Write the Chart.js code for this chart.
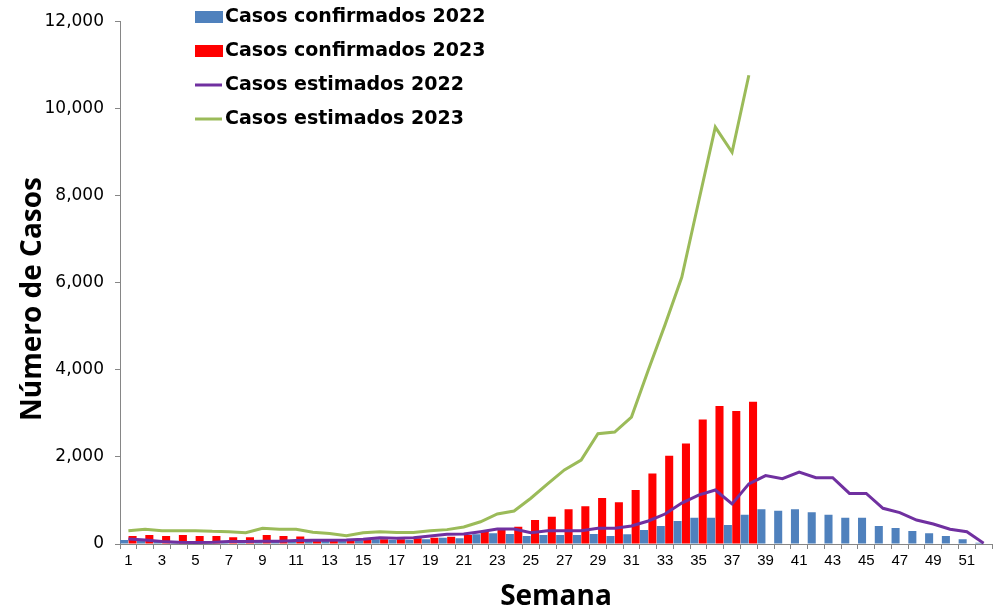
<!DOCTYPE html>
<html>
<head>
<meta charset="utf-8">
<script src="https://cdn.jsdelivr.net/npm/chart.js@4"></script>
<style>
  html, body { margin: 0; padding: 0; background: #fff; }
  #wrap { width: 1000px; height: 611px; }
</style>
</head>
<body>
<div id="wrap"><canvas id="chartCasos" width="1000" height="611"></canvas></div>
<script>
const weeks = [1,2,3,4,5,6,7,8,9,10,11,12,13,14,15,16,17,18,19,20,21,22,23,24,25,26,
  27,28,29,30,31,32,33,34,35,36,37,38,39,40,41,42,43,44,45,46,47,48,49,50,51,52];

const confirmados2022 = [90,70,60,60,60,60,60,60,70,70,70,70,76,76,80,107,92,92,107,145,130,222,245,229,184,206,
  206,206,229,184,222,321,413,528,605,605,436,670,795,765,795,727,673,605,605,413,367,298,245,184,107,30];

const confirmados2023 = [184,206,184,206,184,184,153,153,206,184,170,115,107,92,92,107,107,130,145,168,206,283,337,398,551,627,
  795,864,1055,956,1239,1621,2026,2309,2860,3166,3051,3265];

const estimados2022 = [115,92,60,40,35,40,55,60,65,65,80,88,88,92,107,145,130,145,184,222,229,283,344,344,260,306,
  306,306,359,359,413,528,688,940,1124,1239,920,1380,1570,1500,1650,1520,1520,1160,1160,820,720,550,460,340,280,20];

const estimados2023 = [306,336,306,306,306,290,283,260,359,336,336,268,240,191,260,283,265,265,306,330,390,510,690,757,1050,1380,
  1700,1927,2530,2570,2913,3990,5030,6120,7850,9570,8990,10760];

const yTicks = [0, 2000, 4000, 6000, 8000, 10000, 12000];
const yTitle = 'Número de Casos';

// legend + y title drawn by hand so they sit where the original has them
const extrasPlugin = {
  id: 'extrasCasos',
  afterDraw(chart) {
    const ctx = chart.ctx;
    const rows = [17, 51, 85, 119];
    ctx.save();
    ctx.font = 'bold 19px "DejaVu Sans"';
    ctx.textBaseline = 'middle';
    chart.data.datasets.forEach((ds, i) => {
      const y = rows[i];
      if (ds.type === 'line') {
        ctx.strokeStyle = ds.borderColor;
        ctx.lineWidth = 3;
        ctx.beginPath();
        ctx.moveTo(195, y);
        ctx.lineTo(222, y);
        ctx.stroke();
      } else {
        ctx.fillStyle = ds.backgroundColor;
        ctx.fillRect(195, y - 6, 28, 12);
      }
      ctx.fillStyle = '#000';
      ctx.fillText(ds.label, 225, y);
    });

    ctx.translate(33, 299);
    ctx.rotate(-Math.PI / 2);
    ctx.font = 'bold 28px "Open Sans"';
    ctx.textAlign = 'center';
    ctx.fillStyle = '#000';
    ctx.fillText(yTitle, 0, 0);
    ctx.restore();
  }
};

new Chart(document.getElementById('chartCasos'), {
  type: 'bar',
  data: {
    labels: weeks,
    datasets: [
      { type: 'bar', label: 'Casos confirmados 2022', data: confirmados2022,
        backgroundColor: '#4F81BD', order: 3,
        categoryPercentage: 1.0, barPercentage: 0.96 },
      { type: 'bar', label: 'Casos confirmados 2023', data: confirmados2023,
        backgroundColor: '#FF0000', order: 3,
        categoryPercentage: 1.0, barPercentage: 0.96 },
      { type: 'line', label: 'Casos estimados 2022', data: estimados2022,
        borderColor: '#7030A0', borderWidth: 3, pointRadius: 0, tension: 0, order: 2 },
      { type: 'line', label: 'Casos estimados 2023', data: estimados2023,
        borderColor: '#9BBB59', borderWidth: 3, pointRadius: 0, tension: 0, order: 1 }
    ]
  },
  options: {
    responsive: false,
    animation: false,
    layout: { padding: { top: 21, right: 8, left: 0, bottom: 0 } },
    plugins: {
      legend: { display: false },
      tooltip: { enabled: false }
    },
    scales: {
      x: {
        afterFit: s => { s.height = 67; },
        border: { color: '#868686', width: 1 },
        grid: { display: true, drawOnChartArea: false, drawTicks: true, tickLength: 5,
                color: '#868686', offset: true },
        ticks: {
          autoSkip: false, maxRotation: 0, padding: 3, color: '#000',
          font: { family: '"Liberation Sans", Arial', size: 15 },
          callback: (v, i) => (i % 2 === 0 ? String(weeks[i]) : '')
        },
        title: {
          display: true, text: 'Semana', color: '#000',
          font: { family: '"Open Sans"', size: 28, weight: 'bold', lineHeight: 1 },
          padding: { top: 0, bottom: 0 }
        }
      },
      y: {
        min: 0, max: 12000,
        afterFit: s => { s.width = 120; },
        afterBuildTicks: s => { s.ticks = yTicks.map(v => ({ value: v })); },
        border: { color: '#868686', width: 1 },
        grid: { display: true, drawOnChartArea: false, drawTicks: true, tickLength: 5, color: '#868686' },
        ticks: {
          padding: 11, color: '#000',
          font: { family: '"DejaVu Sans"', size: 17 },
          callback: v => v.toLocaleString('en-US')
        }
      }
    }
  },
  plugins: [extrasPlugin]
});
</script>
</body>
</html>
